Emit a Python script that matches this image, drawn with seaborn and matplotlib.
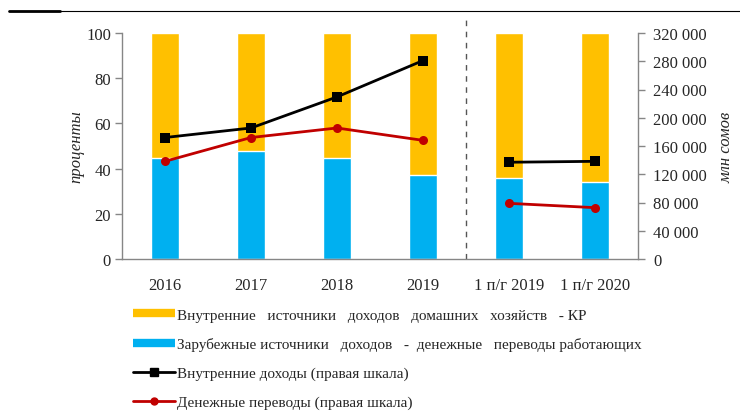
import numpy as np
import pandas as pd
import matplotlib
matplotlib.use("Agg")
import matplotlib.pyplot as plt
from matplotlib.lines import Line2D
import seaborn as sns

# =========================
# DATA
# =========================

categories = ["2016", "2017", "2018", "2019", "1 п/г 2019", "1 п/г 2020"]
total_share = [100, 100, 100, 100, 100, 100]
foreign_share = [44.6, 47.6, 44.6, 37.3, 35.8, 33.9]

domestic_income = [172000, 185500, 229500, 281000, 137000, 138300]
remittances = [138300, 172000, 185500, 168000, 78800, 72700]

# segments of the lines: annual and half-year
segments = [[0, 1, 2, 3], [4, 5]]

labels = [
    "Внутренние   источники   доходов   домашних   хозяйств   - КР",
    "Зарубежные источники   доходов   -  денежные   переводы работающих",
    "Внутренние доходы (правая шкала)",
    "Денежные переводы (правая шкала)",
]

YELLOW = "#FFC000"
BLUE = "#00B0F0"
RED = "#C00000"
GREY = "#868686"

sns.set_style("white")
plt.rcParams["font.family"] = ["Liberation Serif", "DejaVu Serif"]

df = pd.DataFrame({"cat": categories, "total": total_share, "foreign": foreign_share})

fig = plt.figure(figsize=(7.4, 4.14), dpi=100)
ax = fig.add_axes([122 / 740, 1 - 260 / 414, 516 / 740, 226 / 414])

# =========================
# BARS
# =========================

sns.barplot(data=df, x="cat", y="total", color=YELLOW, width=0.33,
            saturation=1, ax=ax, order=categories)
sns.barplot(data=df, x="cat", y="foreign", color=BLUE, width=0.33,
            saturation=1, ax=ax, order=categories)

ax.set_xlim(-0.5, 5.5)
ax.set_ylim(0, 100)
ax.set_yticks(np.arange(0, 101, 20))
ax.set_xlabel("")
ax.set_ylabel("проценты", fontsize=12, style="italic", labelpad=1)
ax.tick_params(axis="x", length=0, labelsize=12, pad=13)
ax.tick_params(axis="y", length=5, width=1, color=GREY, labelsize=12, pad=3, left=True)

for s in ["top", "right"]:
    ax.spines[s].set_visible(False)
for s in ["left", "bottom"]:
    ax.spines[s].set_color(GREY)
    ax.spines[s].set_linewidth(1)

ax.axvline(3.5, ymin=0, ymax=1.075, color="#555555", lw=1, ls=(0, (4, 4)), clip_on=False)

# =========================
# LINES (RIGHT AXIS)
# =========================

ax2 = ax.twinx()
pos = np.arange(len(categories))
for seg in segments:
    seg_df = pd.DataFrame({
        "x": pos[seg],
        "dom": [domestic_income[i] for i in seg],
        "rem": [remittances[i] for i in seg],
    })
    sns.lineplot(data=seg_df, x="x", y="dom", ax=ax2, color="black", lw=2,
                 marker="s", markersize=6.5, markeredgewidth=0)
    sns.lineplot(data=seg_df, x="x", y="rem", ax=ax2, color=RED, lw=2,
                 marker="o", markersize=6.5, markeredgewidth=0)

ax2.set_ylim(0, 320000)
ax2.set_yticks(np.arange(0, 320001, 40000))
ax2.set_yticklabels([f"{v:,}".replace(",", " ") for v in range(0, 320001, 40000)])
ax2.set_ylabel("млн сомов", fontsize=12, style="italic", labelpad=8)
ax2.set_xlabel("")
ax2.tick_params(axis="y", length=5, width=1, color=GREY, labelsize=12, pad=6, right=True)
for s in ["top", "left", "bottom"]:
    ax2.spines[s].set_visible(False)
ax2.spines["right"].set_color(GREY)
ax2.spines["right"].set_linewidth(1)
ax.set_xlim(-0.5, 5.5)

# =========================
# LEGEND
# =========================

handles = [
    Line2D([], [], color=YELLOW, lw=6, solid_capstyle="butt"),
    Line2D([], [], color=BLUE, lw=6, solid_capstyle="butt"),
    Line2D([], [], color="black", lw=2, marker="s", markersize=6),
    Line2D([], [], color=RED, lw=2, marker="o", markersize=5),
]
fig.legend(handles, labels, loc="upper left", bbox_to_anchor=(133 / 740, 1 - 309 / 414),
           frameon=False, fontsize=11, handlelength=2.75, handletextpad=0.15,
           labelspacing=1.0, borderaxespad=0, borderpad=0)

# top border line
fig.add_artist(Line2D([9 / 740, 1], [1 - 12 / 414] * 2, color="black", lw=0.8))
fig.add_artist(Line2D([9 / 740, 60 / 740], [1 - 12 / 414] * 2, color="black", lw=2))

fig.savefig("out.png", dpi=100)
